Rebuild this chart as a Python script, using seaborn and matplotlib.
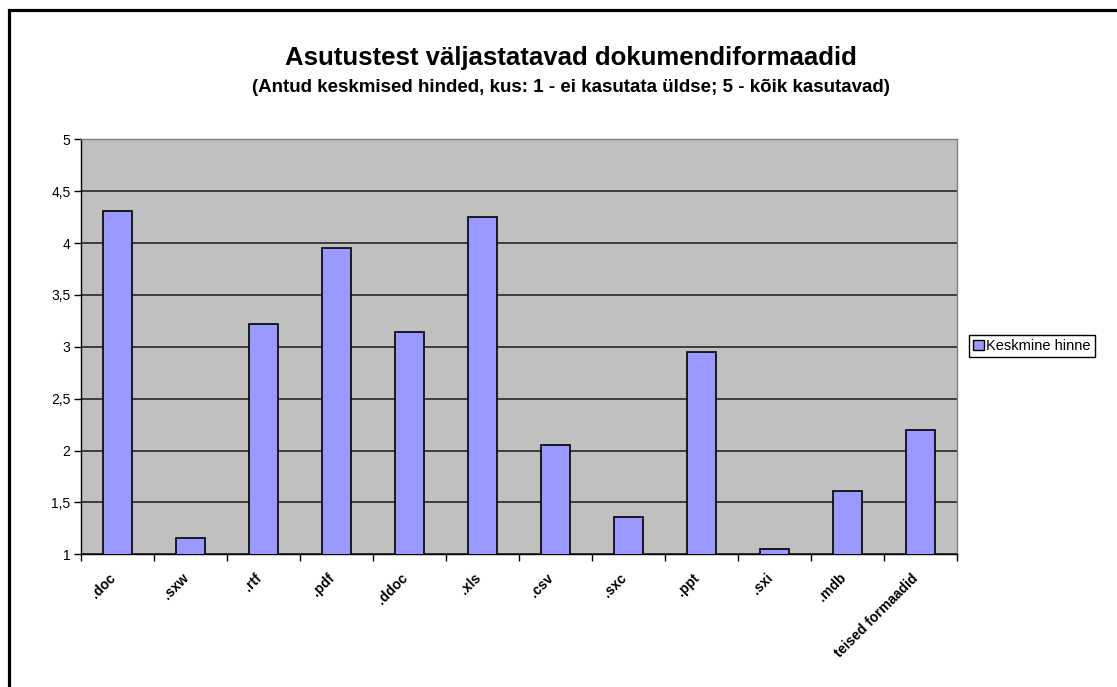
import pandas as pd
import seaborn as sns
import matplotlib.pyplot as plt
import matplotlib.transforms as mtransforms
from matplotlib.patches import Patch, Rectangle

# andmed (loetud pildilt)
formats = ['.doc', '.sxw', '.rtf', '.pdf', '.ddoc', '.xls', '.csv', '.sxc', '.ppt', '.sxi', '.mdb', 'teised formaadid']
scores = [4.31, 1.16, 3.22, 3.95, 3.14, 4.25, 2.05, 1.36, 2.95, 1.05, 1.61, 2.20]
y_ticks = [1, 1.5, 2, 2.5, 3, 3.5, 4, 4.5, 5]
y_labels = ['1', '1,5', '2', '2,5', '3', '3,5', '4', '4,5', '5']

title = 'Asutustest väljastatavad dokumendiformaadid'
subtitle = '(Antud keskmised hinded, kus: 1 - ei kasutata üldse; 5 - kõik kasutavad)'
series_name = 'Keskmine hinne'

df = pd.DataFrame({'format': formats, 'score': scores})

sns.set_style('white')
plt.rcParams['font.family'] = ['Liberation Sans', 'DejaVu Sans']
plt.rcParams['text.color'] = 'black'
plt.rcParams['xtick.color'] = 'black'
plt.rcParams['ytick.color'] = 'black'
plt.rcParams['xtick.labelcolor'] = 'black'
plt.rcParams['ytick.labelcolor'] = 'black'

fig = plt.figure(figsize=(11.17, 6.87), dpi=100)
ax = fig.add_axes([81 / 1117, 1 - 554.3 / 687, 876 / 1117, 415 / 687])

sns.barplot(data=df, x='format', y='score', color='#9999FF', saturation=1,
            edgecolor='black', linewidth=1.2, width=0.41, ax=ax, zorder=3)

ax.set_facecolor('#C0C0C0')
ax.set_ylim(1, 5)
ax.set_xlim(-0.5, len(formats) - 0.5)
ax.set_yticks(y_ticks)
ax.set_yticklabels(y_labels, fontsize=10)
ax.set_axisbelow(True)
ax.grid(True, axis='y', color='#1a1a1a', linewidth=1.1)
ax.grid(False, axis='x')
ax.set_xlabel('')
ax.set_ylabel('')

# x-telg: märgid kategooriate vahel
ax.set_xticks(range(len(formats)))
ax.set_xticklabels(formats, rotation=45, ha='right', rotation_mode='anchor',
                   fontsize=10, fontweight='bold')
ax.tick_params(axis='x', which='major', length=0, pad=12)
shift = mtransforms.ScaledTranslation(-9 / 100, 0, fig.dpi_scale_trans)
for lbl in ax.get_xticklabels():
    lbl.set_transform(lbl.get_transform() + shift)
ax.set_xticks([i - 0.5 for i in range(len(formats) + 1)], minor=True)
ax.tick_params(axis='x', which='minor', length=5, width=1, color='black', bottom=True)
ax.tick_params(axis='y', length=5, width=1, color='black', left=True, pad=2.5)

for side in ['left', 'bottom']:
    ax.spines[side].set_color('black')
    ax.spines[side].set_linewidth(1)
for side in ['top', 'right']:
    ax.spines[side].set_color('#808080')
    ax.spines[side].set_linewidth(1)

fig.text(571 / 1117, 1 - 58 / 687, title, ha='center', va='center',
         fontsize=18.5, fontweight='bold', color='black')
fig.text(571 / 1117, 1 - 88 / 687, subtitle, ha='center', va='center',
         fontsize=13.5, fontweight='bold', color='black')

handle = Patch(facecolor='#9999FF', edgecolor='black', linewidth=1)
leg = fig.legend([handle], [series_name], loc='center left',
                 bbox_to_anchor=(969 / 1117, 1 - 346 / 687), fontsize=10.5,
                 frameon=True, fancybox=False, edgecolor='black', framealpha=1,
                 handlelength=0.75, handleheight=0.75, handletextpad=0.15,
                 borderpad=0.3, borderaxespad=0, labelcolor='black')
leg.get_frame().set_linewidth(1)

# diagrammi raam (paistab vaid üleval ja vasakul)
fig.patches.append(Rectangle((9.5 / 1117, -0.1), 1.2, 1 - 9.5 / 687 + 0.1,
                             transform=fig.transFigure, fill=False,
                             edgecolor='black', linewidth=2.3))

fig.savefig('out.png', dpi=100, facecolor='white')
